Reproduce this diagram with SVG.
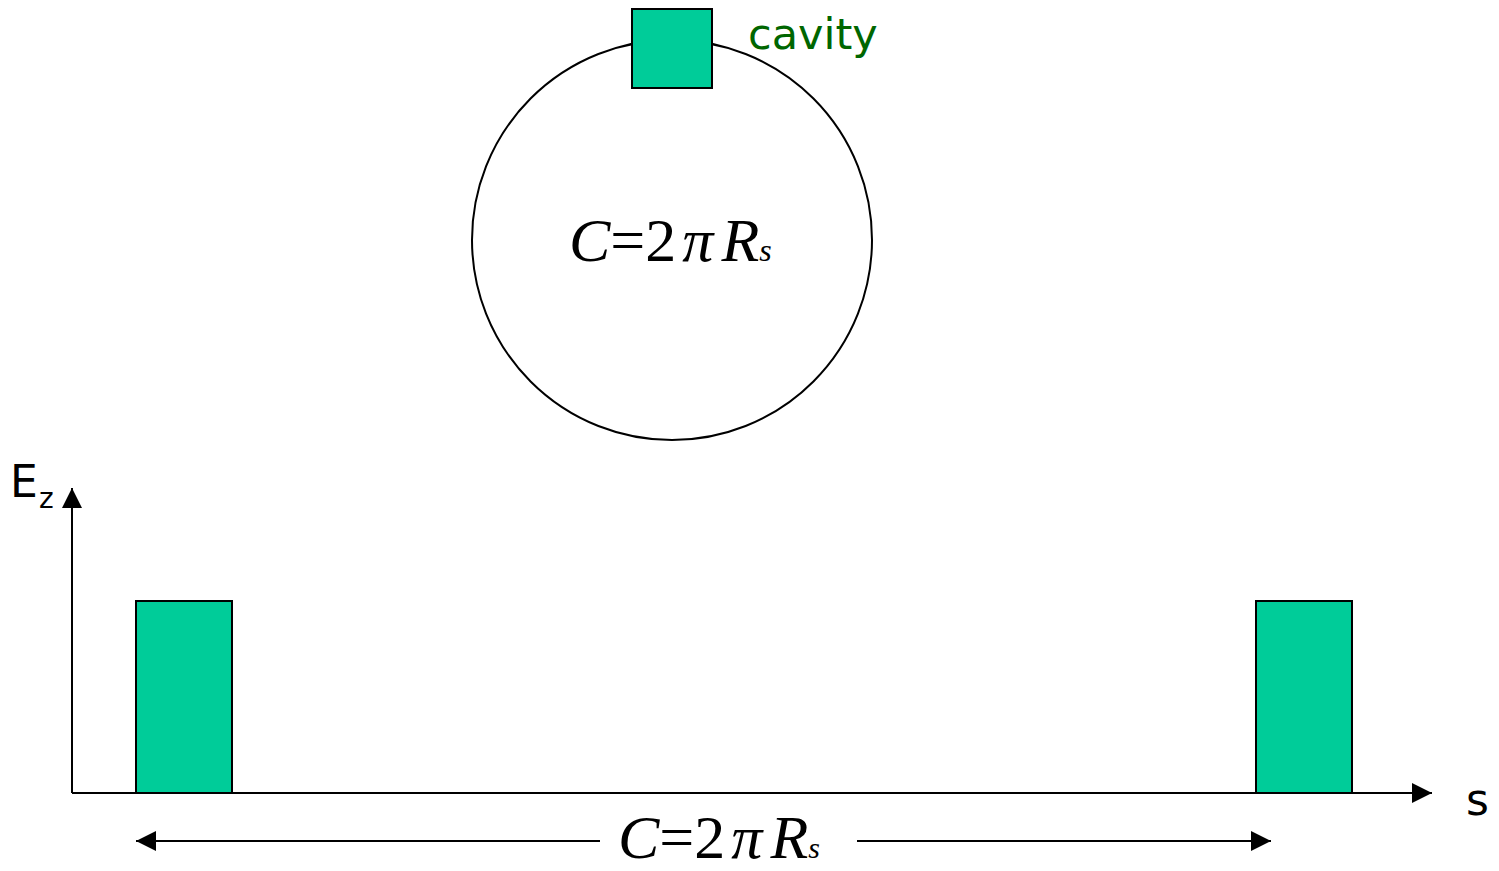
<svg xmlns="http://www.w3.org/2000/svg" width="1499" height="871" viewBox="0 0 1499 871">
<style>
.bar{fill:#00CC99;stroke:#000;stroke-width:2}
.ln{stroke:#000;stroke-width:2;fill:none}
.math{font-family:"Liberation Serif","Times New Roman",serif;font-size:62px;fill:#000}
.it{font-style:italic}
.lbl{font-family:"DejaVu Sans","Liberation Sans",sans-serif;fill:#000}
</style>
<defs>
<marker id="ah" markerWidth="22" markerHeight="22" refX="20" refY="10" orient="auto" markerUnits="userSpaceOnUse">
<path d="M0,0 L20,10 L0,20 Z" fill="#000"/>
</marker>
</defs>
<rect width="1499" height="871" fill="#fff"/>
<g id="ring">
<circle cx="672" cy="240" r="200" class="ln"/>
</g>
<g id="cavity">
<rect x="632" y="9" width="80" height="79" class="bar"/>
<text x="748" y="49" font-family="DejaVu Sans, Liberation Sans, sans-serif" font-size="43" fill="#006600">cavity</text>
</g>
<g id="formula-top">
<text x="569" y="261" class="math"><tspan class="it">C</tspan>=2<tspan class="it" dx="6">π</tspan><tspan class="it" dx="8">R</tspan><tspan class="it" font-size="32">s</tspan></text>
</g>
<g id="bar-left"><rect x="136" y="601" width="96" height="192" class="bar"/></g>
<g id="bar-right"><rect x="1256" y="601" width="96" height="192" class="bar"/></g>
<g id="connectors">
<line x1="72" y1="793" x2="72" y2="488" class="ln" marker-end="url(#ah)"/>
<line x1="72" y1="793" x2="1432" y2="793" class="ln" marker-end="url(#ah)"/>
<line x1="600" y1="841" x2="136" y2="841" class="ln" marker-end="url(#ah)"/>
<line x1="857" y1="841" x2="1271" y2="841" class="ln" marker-end="url(#ah)"/>
</g>
<g id="axis-labels">
<text x="10" y="497" class="lbl" font-size="44">E</text>
<text x="39" y="508" class="lbl" font-size="28">z</text>
<text x="1466" y="815" class="lbl" font-size="44">s</text>
</g>
<g id="formula-bottom">
<text x="618" y="858" class="math" font-size="58"><tspan class="it">C</tspan>=2<tspan class="it" dx="6">π</tspan><tspan class="it" dx="8">R</tspan><tspan class="it" font-size="30">s</tspan></text>
</g>
</svg>
